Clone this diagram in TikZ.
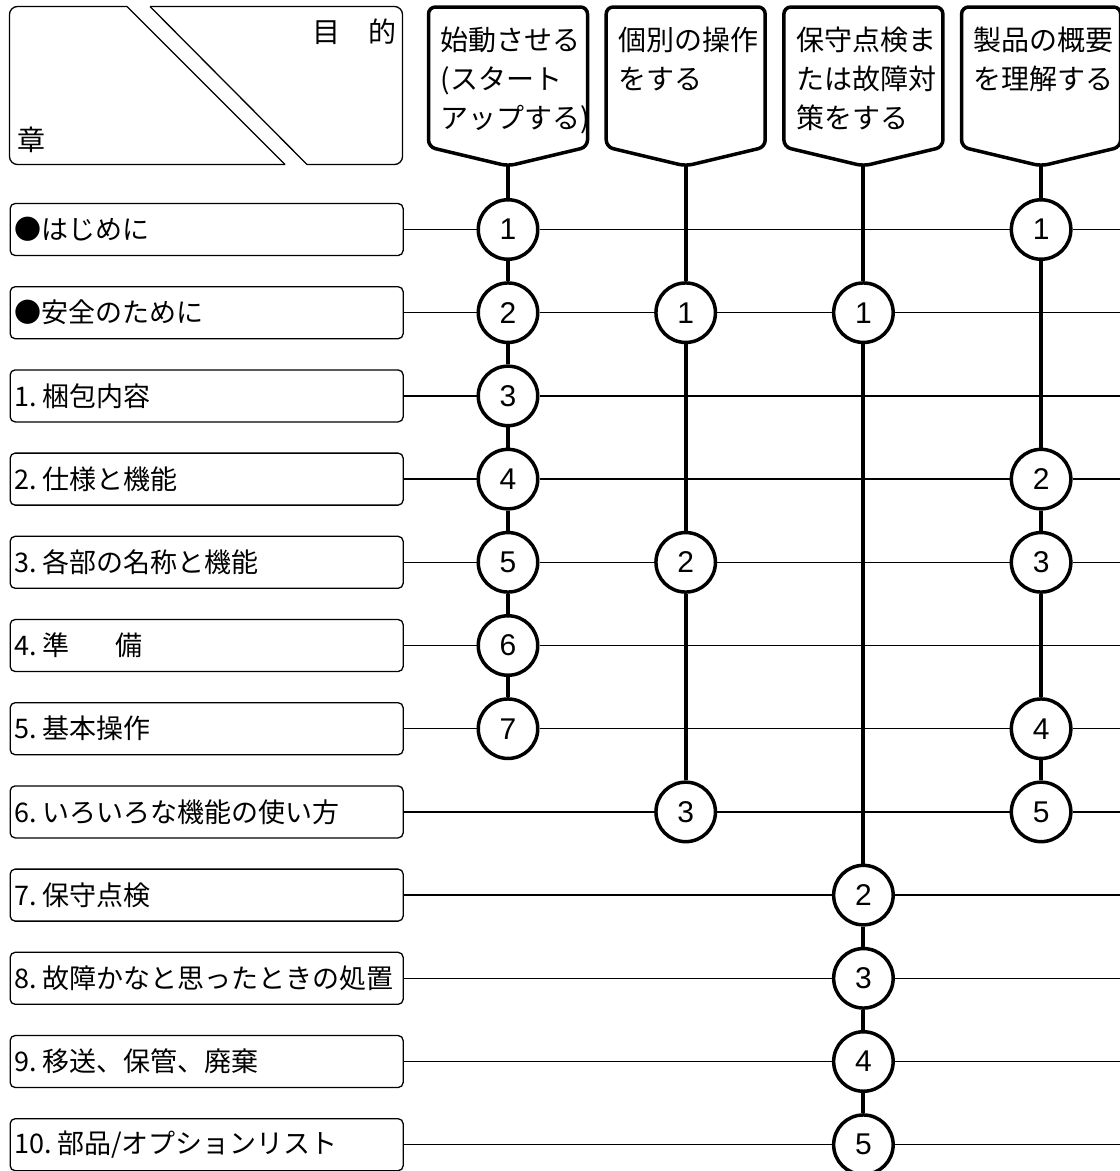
\documentclass[tikz,border=0pt]{standalone}
\usepackage{fontspec}
\setmainfont{Noto Sans CJK JP}
\newfontfamily\numfont{Liberation Sans}
\newcommand\chaptext[1]{\makebox[385pt][l]{\spaceskip=3.5pt\relax#1}}
\tikzset{
  chap/.style={draw, rounded corners=5pt, line width=1.3pt, anchor=west,
    minimum height=52pt, inner xsep=4pt, inner ysep=0pt,
    font=\fontsize{27}{32}\selectfont},
  num/.style={circle, draw, line width=3.5pt, fill=white, minimum size=59.5pt,
    inner sep=0pt, font=\numfont\fontsize{30}{30}\selectfont},
  aim/.style={line width=3.5pt, rounded corners=7pt},
  aimtext/.style={anchor=north west, align=left, inner sep=0pt,
    font=\fontsize{28}{39}\selectfont},
  rowline/.style={line width=1.3pt},
  colline/.style={line width=4pt}
}
\begin{document}
\begin{tikzpicture}[x=1pt,y=-1pt]
\useasboundingbox (0,0) rectangle (1120,1171);

\draw[rounded corners=8pt, line width=1.3pt] (285,164.5)--(9.5,164.5)--(9.5,6.5)--(127,6.5);
\draw[line width=1.3pt] (127,6.5)--(285,164.5);
\draw[rounded corners=8pt, line width=1.3pt] (150,6.5)--(402.5,6.5)--(402.5,164.5)--(307,164.5);
\draw[line width=1.3pt] (307,164.5)--(150,6.5);
\node[anchor=east, inner sep=0pt, font=\fontsize{28}{28}\selectfont] (mokuteki) at (397,32) {目　的};
\node[anchor=west, inner sep=0pt, font=\fontsize{28}{28}\selectfont] (shou) at (17,140) {章};

\foreach \j/\t in {1/{始動させる\\(スタート\\アップする)}, 2/{個別の操作\\をする},
    3/{保守点検ま\\たは故障対\\策をする}, 4/{製品の概要\\を理解する}}{
  \pgfmathsetmacro\cx{508+177.7*(\j-1)}
  \draw[aim] (\cx-79.5,147)--(\cx-79.5,7)--(\cx+79.5,7)--(\cx+79.5,147)--(\cx,166)--cycle;
  \node[aimtext] (h\j) at (\cx-67.5,27) {\t};
  \coordinate (t\j) at (\cx,166);
}

\foreach \i/\t in {1/{●はじめに}, 2/{●安全のために}, 3/{1. 梱包内容}, 4/{2. 仕様と機能},
    5/{3. 各部の名称と機能}, 6/{4. 準\hspace{1.7em}備}, 7/{5. 基本操作},
    8/{6. いろいろな機能の使い方}, 9/{7. 保守点検}, 10/{8. 故障かなと思ったときの処置},
    11/{9. 移送、保管、廃棄}, 12/{10. 部品/オプションリスト}}{
  \node[chap] (r\i) at (9.5,{229.5+83.2*(\i-1)}) {\chaptext{\t}};
  \coordinate (e\i) at (1120,{229.5+83.2*(\i-1)});
}

\foreach \j/\i/\n in {1/1/1, 1/2/2, 1/3/3, 1/4/4, 1/5/5, 1/6/6, 1/7/7,
    2/2/1, 2/5/2, 2/8/3,
    3/2/1, 3/9/2, 3/10/3, 3/11/4, 3/12/5,
    4/1/1, 4/4/2, 4/5/3, 4/7/4, 4/8/5}
  \node[num] (k\j-\i) at ({508+177.7*(\j-1)},{229.5+83.2*(\i-1)}) {\n};

\draw[colline] (t1)--(k1-1)--(k1-2)--(k1-3)--(k1-4)--(k1-5)--(k1-6)--(k1-7);
\draw[colline] (t2)--(k2-2)--(k2-5)--(k2-8);
\draw[colline] (t3)--(k3-2)--(k3-9)--(k3-10)--(k3-11)--(k3-12);
\draw[colline] (t4)--(k4-1)--(k4-4)--(k4-5)--(k4-7)--(k4-8);

\draw[rowline] (r1)--(k1-1)--(k4-1)--(e1);
\draw[rowline] (r2)--(k1-2)--(k2-2)--(k3-2)--(e2);
\draw[rowline] (r3)--(k1-3)--(e3);
\draw[rowline] (r4)--(k1-4)--(k4-4)--(e4);
\draw[rowline] (r5)--(k1-5)--(k2-5)--(k4-5)--(e5);
\draw[rowline] (r6)--(k1-6)--(e6);
\draw[rowline] (r7)--(k1-7)--(k4-7)--(e7);
\draw[rowline] (r8)--(k2-8)--(k4-8)--(e8);
\draw[rowline] (r9)--(k3-9)--(e9);
\draw[rowline] (r10)--(k3-10)--(e10);
\draw[rowline] (r11)--(k3-11)--(e11);
\draw[rowline] (r12)--(k3-12)--(e12);
\end{tikzpicture}
\end{document}
